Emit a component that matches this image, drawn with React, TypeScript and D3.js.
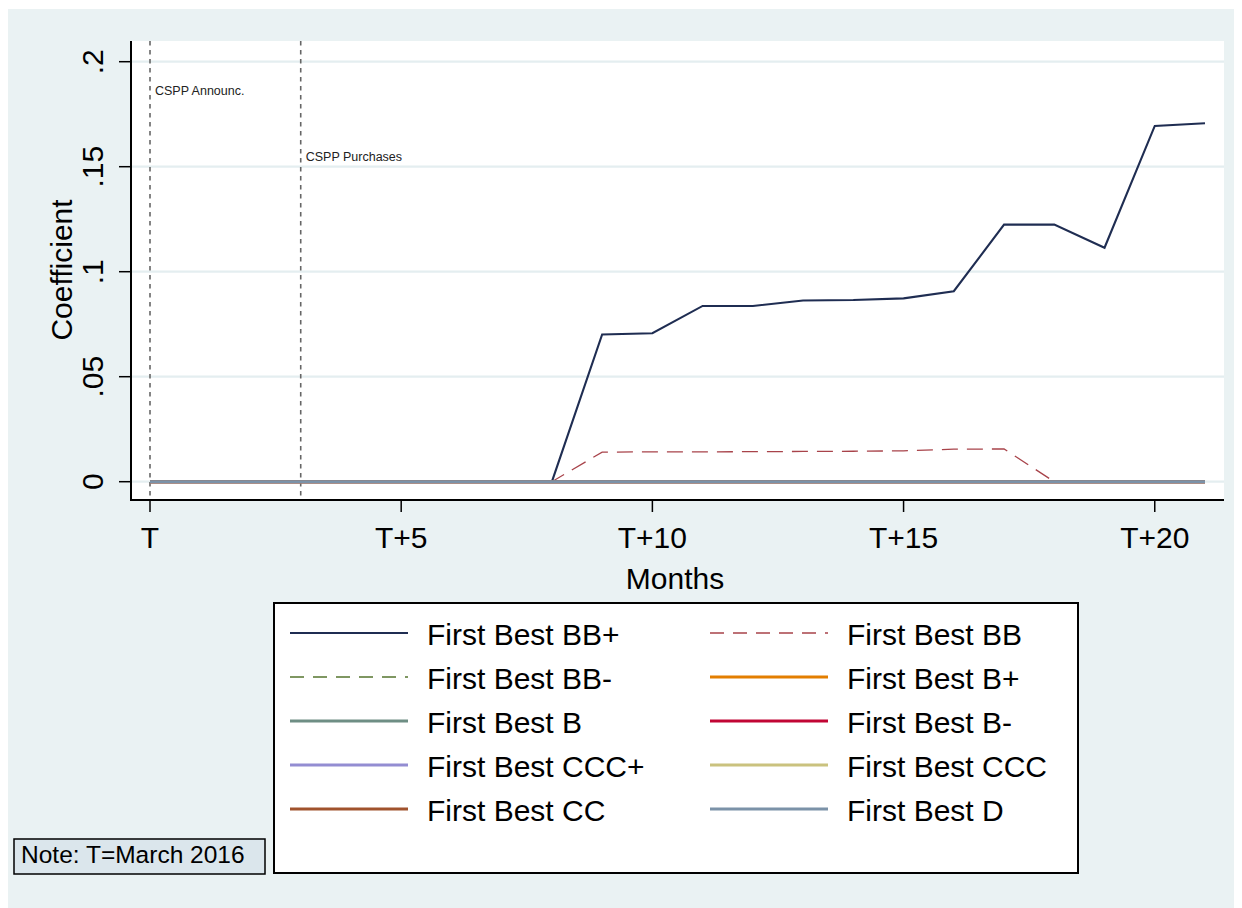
import React from "react";
import * as d3 from "d3";

// ---------- data ----------
const months = [0, 1, 2, 3, 4, 5, 6, 7, 8, 9, 10, 11, 12, 13, 14, 15, 16, 17, 18, 19, 20, 21];
const bbPlus = [0, 0, 0, 0, 0, 0, 0, 0, 0, 0.0701, 0.0707, 0.0837, 0.0837, 0.0863, 0.0865, 0.0873, 0.0907, 0.1224, 0.1224, 0.1114, 0.1694, 0.1707];
const bb = [0, 0, 0, 0, 0, 0, 0, 0, 0, 0.0141, 0.0142, 0.0142, 0.0143, 0.0144, 0.0145, 0.0147, 0.0155, 0.0156, 0, 0, 0, 0];
const bbMinus = [0, 0, 0, 0, 0, 0, 0, 0, 0, 0, 0, 0, 0, 0, 0, 0, 0, 0, 0, 0, 0, 0];
const bPlus = [0, 0, 0, 0, 0, 0, 0, 0, 0, 0, 0, 0, 0, 0, 0, 0, 0, 0, 0, 0, 0, 0];
const bFlat = [0, 0, 0, 0, 0, 0, 0, 0, 0, 0, 0, 0, 0, 0, 0, 0, 0, 0, 0, 0, 0, 0];
const bMinus = [0, 0, 0, 0, 0, 0, 0, 0, 0, 0, 0, 0, 0, 0, 0, 0, 0, 0, 0, 0, 0, 0];
const cccPlus = [0, 0, 0, 0, 0, 0, 0, 0, 0, 0, 0, 0, 0, 0, 0, 0, 0, 0, 0, 0, 0, 0];
const ccc = [0, 0, 0, 0, 0, 0, 0, 0, 0, 0, 0, 0, 0, 0, 0, 0, 0, 0, 0, 0, 0, 0];
const cc = [0, 0, 0, 0, 0, 0, 0, 0, 0, 0, 0, 0, 0, 0, 0, 0, 0, 0, 0, 0, 0, 0];
const dRating = [0, 0, 0, 0, 0, 0, 0, 0, 0, 0, 0, 0, 0, 0, 0, 0, 0, 0, 0, 0, 0, 0];

const seriesNames = [
  "First Best BB+", "First Best BB", "First Best BB-", "First Best B+", "First Best B",
  "First Best B-", "First Best CCC+", "First Best CCC", "First Best CC", "First Best D",
];
const xTicks = [0, 5, 10, 15, 20];
const xTickLabels = ["T", "T+5", "T+10", "T+15", "T+20"];
const yTicks = [0, 0.05, 0.1, 0.15, 0.2];
const yTickLabels = ["0", ".05", ".1", ".15", ".2"];
const eventMonths = [0, 3];
const eventLabels = ["CSPP Announc.", "CSPP Purchases"];
const eventLabelY = [0.184, 0.1527];

// ---------- styles ----------
const styles = [
  { color: "#1f2d52", width: 2.1, dash: null },
  { color: "#a8434a", width: 1.3, dash: "16,9" },
  { color: "#55752f", width: 1.3, dash: "16,9" },
  { color: "#e37e00", width: 3, dash: null },
  { color: "#6e8e84", width: 3, dash: null },
  { color: "#c10534", width: 3, dash: null },
  { color: "#938dd2", width: 3, dash: null },
  { color: "#cac27e", width: 3, dash: null },
  { color: "#a0522d", width: 3, dash: null },
  { color: "#7b92a8", width: 3, dash: null },
];
const allValues = [bbPlus, bb, bbMinus, bPlus, bFlat, bMinus, cccPlus, ccc, cc, dRating];
const series = seriesNames.map((name, i) => ({ name, values: allValues[i], ...styles[i] }));

const FONT = "'Liberation Sans', Arial, sans-serif";
const BG = "#eaf2f3";

export default function App() {
  // page coordinates; group shifted by body margin
  const plot = { left: 131, right: 1224, top: 41, bottom: 500 };
  const x = d3.scaleLinear().domain([0, 21]).range([150, 1205]);
  const y = d3.scaleLinear().domain([0, 0.2]).range([481.7, 61.7]);
  const line = d3
    .line<number>()
    .x((_, i) => x(months[i]))
    .y((v) => y(v));

  const legendRows = [633, 677, 721, 765, 809];
  const legendCols = [
    { x1: 290, x2: 408, tx: 427 },
    { x1: 710, x2: 828, tx: 847 },
  ];

  return (
    <svg width={1234} height={900} style={{ display: "block" }} fontFamily={FONT}>
      <g transform="translate(-8,-8)">
        <rect x={8} y={9} width={1234} height={899} fill={BG} />
        <rect x={plot.left} y={plot.top} width={plot.right - plot.left} height={plot.bottom - plot.top} fill="#ffffff" />
        {/* gridlines */}
        {yTicks.map((t) => (
          <line key={"g" + t} x1={plot.left} x2={plot.right} y1={y(t)} y2={y(t)} stroke="#e4eef0" strokeWidth={2.2} />
        ))}
        {/* event lines */}
        {eventMonths.map((m, i) => (
          <g key={"ev" + i}>
            <line x1={x(m)} x2={x(m)} y1={plot.top} y2={plot.bottom} stroke="#666" strokeWidth={1.6} strokeDasharray="4.5,4.5" />
            <text x={x(m) + 5} y={y(eventLabelY[i])} fontSize={12.5} fill="#222">
              {eventLabels[i]}
            </text>
          </g>
        ))}
        {/* series */}
        {series.map((s) => (
          <path
            key={s.name}
            d={line(s.values) || ""}
            fill="none"
            stroke={s.color}
            strokeWidth={s.width}
            strokeDasharray={s.dash || undefined}
            strokeLinejoin="miter"
          />
        ))}
        {/* axes */}
        <line x1={plot.left} x2={plot.left} y1={plot.top} y2={plot.bottom + 1} stroke="#000" strokeWidth={2} />
        <line x1={plot.left - 1} x2={plot.right} y1={plot.bottom} y2={plot.bottom} stroke="#000" strokeWidth={2} />
        {yTicks.map((t, i) => (
          <g key={"yt" + t}>
            <line x1={119} x2={plot.left} y1={y(t)} y2={y(t)} stroke="#000" strokeWidth={1.5} />
            <text transform={`translate(103,${y(t)}) rotate(-90)`} textAnchor="middle" fontSize={30} fill="#000">
              {yTickLabels[i]}
            </text>
          </g>
        ))}
        {xTicks.map((t, i) => (
          <g key={"xt" + t}>
            <line x1={x(t)} x2={x(t)} y1={plot.bottom} y2={512} stroke="#000" strokeWidth={1.5} />
            <text x={x(t)} y={548} textAnchor="middle" fontSize={30} fill="#000">
              {xTickLabels[i]}
            </text>
          </g>
        ))}
        <text transform="translate(72,270) rotate(-90)" textAnchor="middle" fontSize={30} fill="#000">
          Coefficient
        </text>
        <text x={675} y={589} textAnchor="middle" fontSize={30} fill="#000">
          Months
        </text>
        {/* legend */}
        <rect x={274} y={603} width={804} height={270} fill="#ffffff" stroke="#000" strokeWidth={2} />
        {series.map((s, i) => {
          const col = legendCols[i % 2];
          const ry = legendRows[Math.floor(i / 2)];
          return (
            <g key={"lg" + s.name}>
              <line
                x1={col.x1}
                x2={col.x2}
                y1={ry}
                y2={ry}
                stroke={s.color}
                strokeWidth={s.dash ? 1.3 : s.width === 3 ? 3 : 1.8}
                strokeDasharray={s.dash ? "14,9" : undefined}
              />
              <text x={col.tx} y={ry + 12} fontSize={30} fill="#000">
                {s.name}
              </text>
            </g>
          );
        })}
        {/* note */}
        <rect x={14} y={839} width={251} height={35} fill="#dbe6ec" stroke="#000" strokeWidth={1.5} />
        <text x={21} y={863} fontSize={24.5} fill="#000">
          Note: T=March 2016
        </text>
      </g>
    </svg>
  );
}
